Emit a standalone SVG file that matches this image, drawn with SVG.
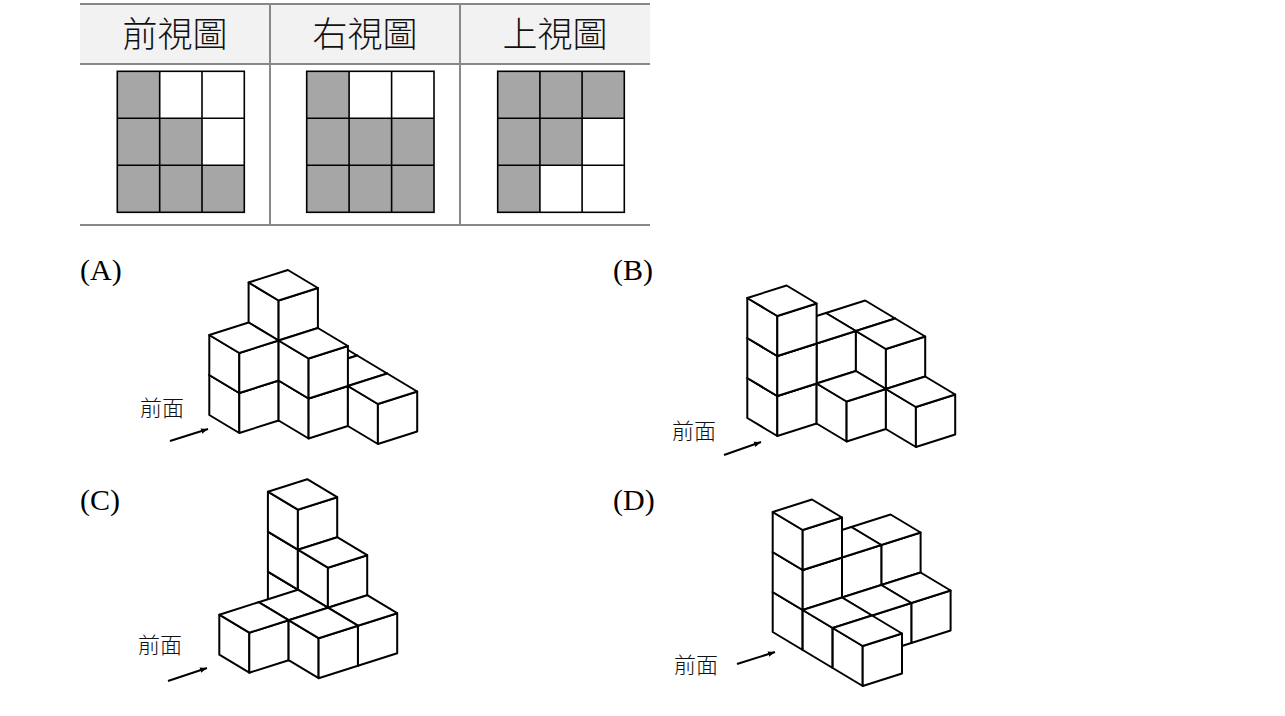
<svg xmlns="http://www.w3.org/2000/svg" xmlns:xlink="http://www.w3.org/1999/xlink" width="1285" height="716" viewBox="0 0 1285 716">
<style>
.hd{font-family:"Noto Sans CJK TC","Noto Sans CJK SC",sans-serif;font-size:35px;font-weight:300;text-anchor:middle;fill:#111}
.lb{font-family:"Liberation Serif",serif;font-size:30px;fill:#000}
.fr{font-family:"Noto Sans CJK TC","Noto Sans CJK SC",sans-serif;font-size:22px;font-weight:300;fill:#111}
.tl{stroke:#888;stroke-width:2;fill:none}
.g{fill:#a6a6a6}
.gl{stroke:#000;stroke-width:1.6;fill:none}
.cb polygon{fill:#fff;stroke:#000;stroke-width:2;stroke-linejoin:round}
.ar{stroke:#000;stroke-width:2;fill:none}
</style>
<defs>
<g id="cube" class="cb">
<polygon points="0,0 -30,-18 -30,-58 0,-40"/>
<polygon points="0,0 39.3,-12.5 39.3,-52.5 0,-40"/>
<polygon points="0,-40 -30,-58 9.3,-70.5 39.3,-52.5"/>
</g>
<marker id="ah" viewBox="0 0 10 10" refX="10" refY="5" markerWidth="7" markerHeight="7" orient="auto" markerUnits="userSpaceOnUse">
<path d="M0,1 L10,5 L0,9 Z" fill="#000"/>
</marker>
</defs>
<rect width="1285" height="716" fill="#fff"/>
<g id="table">
<rect x="80" y="4" width="570" height="60" fill="#f2f2f2"/>
<line class="tl" x1="80" y1="4" x2="650" y2="4"/>
<line class="tl" x1="80" y1="64" x2="650" y2="64"/>
<line class="tl" x1="80" y1="225" x2="650" y2="225"/>
<line class="tl" x1="270" y1="4" x2="270" y2="225"/>
<line class="tl" x1="460" y1="4" x2="460" y2="225"/>
<text class="hd" x="175" y="47">前視圖</text>
<text class="hd" x="365" y="47">右視圖</text>
<text class="hd" x="555" y="47">上視圖</text>
</g>
<g id="front-view">
<rect class="g" x="117.3" y="71.3" width="42.4" height="141"/>
<rect class="g" x="159.7" y="118.3" width="42.3" height="94"/>
<rect class="g" x="202" y="165.3" width="42.3" height="47"/>
<rect class="gl" x="117.3" y="71.3" width="127" height="141"/>
<path class="gl" d="M159.7,71.3V212.3M202,71.3V212.3M117.3,118.3H244.3M117.3,165.3H244.3"/>
</g>
<g id="right-view">
<rect class="g" x="306.7" y="71.3" width="42.4" height="141"/>
<rect class="g" x="349.1" y="118.3" width="84.9" height="94"/>
<rect class="gl" x="306.7" y="71.3" width="127.3" height="141"/>
<path class="gl" d="M349.1,71.3V212.3M391.6,71.3V212.3M306.7,118.3H434M306.7,165.3H434"/>
</g>
<g id="top-view">
<rect class="g" x="497.7" y="71.3" width="126.6" height="47"/>
<rect class="g" x="497.7" y="118.3" width="84.4" height="47"/>
<rect class="g" x="497.7" y="165.3" width="42.2" height="47"/>
<rect class="gl" x="497.7" y="71.3" width="126.6" height="141"/>
<path class="gl" d="M539.9,71.3V212.3M582.1,71.3V212.3M497.7,118.3H624.3M497.7,165.3H624.3"/>
</g>
<g id="option-A">
<text class="lb" x="80" y="280">(A)</text>
<text class="fr" x="140" y="416">前面</text>
<use xlink:href="#cube" x="317.9" y="408"/>
<use xlink:href="#cube" x="278.6" y="420.5"/>
<use xlink:href="#cube" x="347.9" y="426"/>
<use xlink:href="#cube" x="278.6" y="380.5"/>
<use xlink:href="#cube" x="239.3" y="433"/>
<use xlink:href="#cube" x="308.6" y="438.5"/>
<use xlink:href="#cube" x="377.9" y="444"/>
<use xlink:href="#cube" x="278.6" y="340.5"/>
<use xlink:href="#cube" x="239.3" y="393"/>
<use xlink:href="#cube" x="308.6" y="398.5"/>
</g>
<g id="option-B">
<text class="lb" x="613" y="280">(B)</text>
<text class="fr" x="672" y="439">前面</text>
<use xlink:href="#cube" x="855.9" y="411"/>
<use xlink:href="#cube" x="855.9" y="371"/>
<use xlink:href="#cube" x="816.6" y="423.5"/>
<use xlink:href="#cube" x="885.9" y="429"/>
<use xlink:href="#cube" x="816.6" y="383.5"/>
<use xlink:href="#cube" x="885.9" y="389"/>
<use xlink:href="#cube" x="777.3" y="436"/>
<use xlink:href="#cube" x="846.6" y="441.5"/>
<use xlink:href="#cube" x="915.9" y="447"/>
<use xlink:href="#cube" x="777.3" y="396"/>
<use xlink:href="#cube" x="777.3" y="356"/>
</g>
<g id="option-C">
<text class="lb" x="80" y="510">(C)</text>
<text class="fr" x="138" y="653">前面</text>
<use xlink:href="#cube" x="297.9" y="629.7"/>
<use xlink:href="#cube" x="297.9" y="589.7"/>
<use xlink:href="#cube" x="327.9" y="647.7"/>
<use xlink:href="#cube" x="297.9" y="549.7"/>
<use xlink:href="#cube" x="327.9" y="607.7"/>
<use xlink:href="#cube" x="288.6" y="660.2"/>
<use xlink:href="#cube" x="357.9" y="665.7"/>
<use xlink:href="#cube" x="249.3" y="672.7"/>
<use xlink:href="#cube" x="318.6" y="678.2"/>
</g>
<g id="option-D">
<text class="lb" x="613" y="510">(D)</text>
<text class="fr" x="674" y="673">前面</text>
<use xlink:href="#cube" x="881.3" y="625"/>
<use xlink:href="#cube" x="881.3" y="585"/>
<use xlink:href="#cube" x="842" y="637.5"/>
<use xlink:href="#cube" x="911.3" y="643"/>
<use xlink:href="#cube" x="842" y="597.5"/>
<use xlink:href="#cube" x="872" y="655.5"/>
<use xlink:href="#cube" x="802.7" y="650"/>
<use xlink:href="#cube" x="802.7" y="610"/>
<use xlink:href="#cube" x="832.7" y="668"/>
<use xlink:href="#cube" x="802.7" y="570"/>
<use xlink:href="#cube" x="862.7" y="686"/>
</g>
<g id="connectors">
<line class="ar" x1="170" y1="441" x2="208" y2="429" marker-end="url(#ah)"/>
<line class="ar" x1="724" y1="455" x2="761" y2="442" marker-end="url(#ah)"/>
<line class="ar" x1="168" y1="681" x2="207" y2="668" marker-end="url(#ah)"/>
<line class="ar" x1="737" y1="664" x2="775" y2="652" marker-end="url(#ah)"/>
</g>
</svg>
